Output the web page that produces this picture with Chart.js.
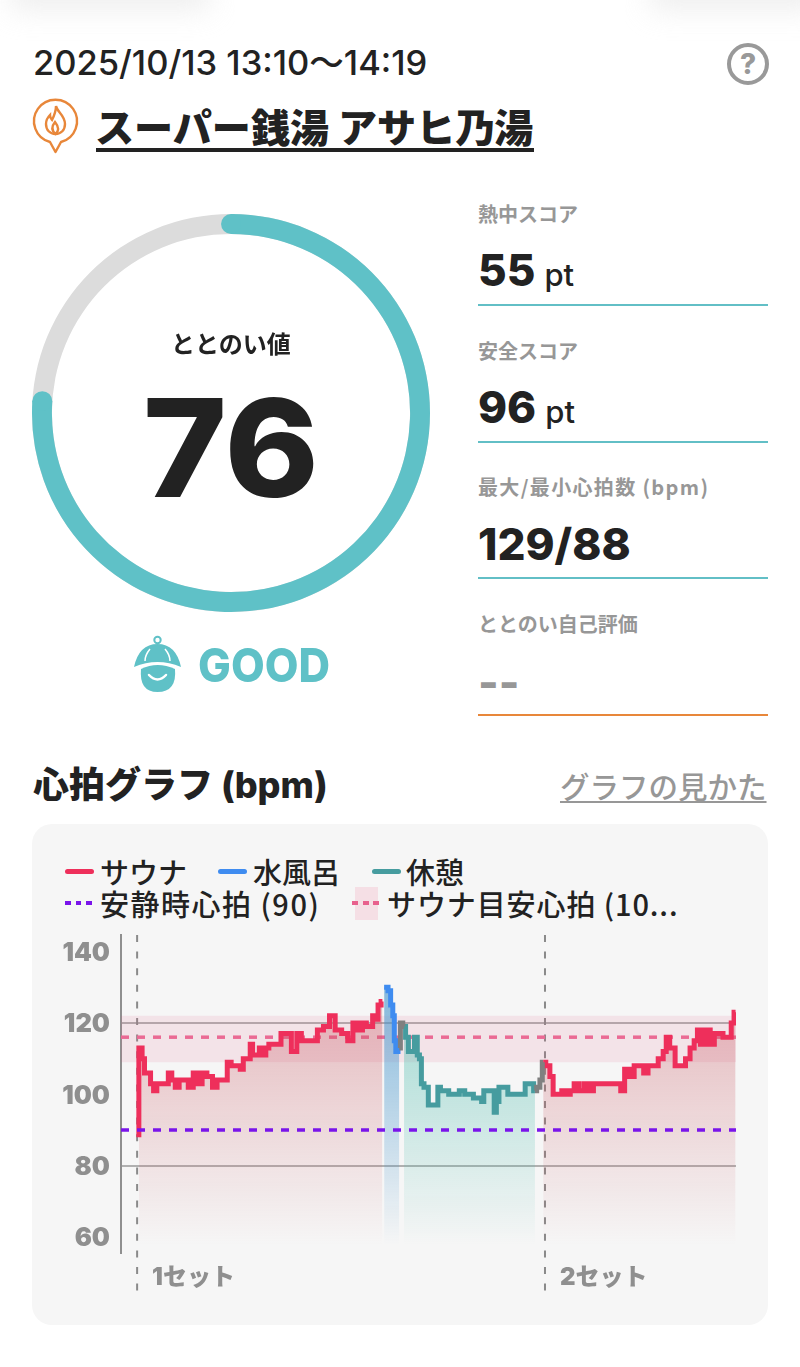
<!DOCTYPE html>
<html lang="ja">
<head>
<meta charset="utf-8">
<title>心拍グラフ</title>
<script src="https://cdn.jsdelivr.net/npm/chart.js@4"></script>
<style>
    html, body { margin: 0; padding: 0; background: #fff; }
    body {
        position: relative;
        width: 800px;
        height: 1367px;
        overflow: hidden;
        color: #222;
        font-family: Inter, "Noto Sans CJK JP", sans-serif;
    }
    .abs { position: absolute; white-space: nowrap; line-height: 1; }
    canvas { position: absolute; }
    .blur { position: absolute; top: -30px; height: 40px; background: #e4e4e4; filter: blur(14px); opacity: .6; }
    .label { left: 478px; font-size: 20px; font-weight: 700; color: #979797; font-family: "Noto Sans CJK JP"; }
    .value { left: 478px; font-size: 44px; font-weight: 800; color: #222; }
    .value small { font-size: 31px; font-weight: 500; margin-left: 9px; }
    .rule { position: absolute; left: 478px; width: 290px; height: 2px; background: #62bfc6; }
    #panel { position: absolute; left: 32px; top: 824px; width: 736px; height: 501px; background: #f6f6f6; border-radius: 20px; }
    .swatch { position: absolute; height: 5px; border-radius: 3px; }
    .dots { position: absolute; height: 4px; }
    .legend { font-size: 29px; font-weight: 500; color: #222; font-family: "Noto Sans CJK JP"; }
</style>
</head>
<body>
<div class="blur" style="left:10px;width:200px"></div>
<div class="blur" style="left:650px;width:170px"></div>

<!-- Header -->
<div class="abs" style="left:33px;top:46px;font-size:34.500px;font-weight:500">2025/10/13 13:10～14:19</div>
<svg class="abs" style="left:726px;top:42px" width="44" height="44">
    <circle cx="22" cy="22" r="19" fill="none" stroke="#999" stroke-width="4"/>
    <text x="22" y="32" text-anchor="middle" font-size="28" font-weight="800" fill="#999" font-family="Inter">?</text>
</svg>
<svg class="abs" style="left:30px;top:96px" width="52" height="62" fill="none" stroke="#e8873a" stroke-width="2.4">
    <path d="M20 46 A21.5 21.5 0 1 1 31 46 L25.5 56 Z" stroke-linejoin="round"/>
    <path d="M26 10 C27 16 35 19 35 28 C35 34 31 38 25.5 38 C20 38 16 34 16 28 C16 24 18 21 20 19 C20 22 21 23 22 24 C24 20 26 15 26 10 Z"/>
    <path d="M25.5 38 C22 35 21 31 25 26 C29 31 29 35 25.5 38 Z"/>
</svg>
<div class="abs" style="left:95px;top:106px;font-size:39.100px;font-weight:800;font-family:'Noto Sans CJK JP'">スーパー銭湯 アサヒ乃湯</div>
<div style="position:absolute;left:96px;top:148px;width:438px;height:4px;background:#222"></div>

<!-- Gauge -->
<canvas id="gaugeTrack" width="418" height="418" style="left:22px;top:204px"></canvas>
<canvas id="gauge" width="418" height="418" style="left:22px;top:204px"></canvas>
<div class="abs" style="left:31px;width:400px;text-align:center;top:331px;font-size:24px;font-weight:700;font-family:'Noto Sans CJK JP'">ととのい値</div>
<div class="abs" id="gaugeValue" style="left:31px;width:400px;text-align:center;top:380px;font-size:136px;font-weight:800;color:#222;transform:scaleX(1.05)"></div>

<svg class="abs" style="left:130px;top:632px" width="54" height="64" viewBox="130 632 54 64" fill="#5fc1c7">
    <circle cx="157.500" cy="640" r="3.200" fill="none" stroke="#5fc1c7" stroke-width="2"/>
    <path d="M134 667 Q139 644 157.500 644 Q176 644 181 667 Q157.500 657 134 667 Z"/>
    <path d="M141 669 Q157.500 661 175 669 Q177 692 157.500 692 Q139 692 141 669 Z"/>
    <path d="M149 675 Q157.500 684 166 675" fill="none" stroke="#fff" stroke-width="2.500" stroke-linecap="round"/>
    <path d="M150 649 Q145 655 145 661 M165 649 Q170 655 170 661" fill="none" stroke="#fff" stroke-width="1.500"/>
</svg>
<div class="abs" style="left:198px;top:641px;font-size:47px;font-weight:800;color:#5fc1c7;transform:scaleX(.93);transform-origin:left">GOOD</div>

<!-- Scores -->
<div class="abs label" style="top:204px">熱中スコア</div>
<div class="abs value" style="top:248px">55<small>pt</small></div>
<div class="rule" style="top:304px"></div>
<div class="abs label" style="top:341px">安全スコア</div>
<div class="abs value" style="top:385px">96<small>pt</small></div>
<div class="rule" style="top:441px"></div>
<div class="abs label" style="top:477px;letter-spacing:1.350px">最大/最小心拍数 (bpm)</div>
<div class="abs value" style="top:522px">129/88</div>
<div class="rule" style="top:577px"></div>
<div class="abs label" style="top:614px">ととのい自己評価</div>
<div class="abs value" style="top:660px;color:#979797">--</div>
<div class="rule" style="top:714px;background:#e8873a"></div>

<!-- Graph heading -->
<div class="abs" style="left:33px;top:767px;font-size:36px;font-weight:800;font-family:Inter,'Noto Sans CJK JP'">心拍グラフ (bpm)</div>
<div class="abs" style="left:560px;top:771px;font-size:29.500px;font-weight:500;color:#979797;font-family:'Noto Sans CJK JP';text-decoration:underline;text-underline-offset:3px">グラフの見かた</div>

<div id="panel"></div>

<!-- Legend -->
<div class="swatch" style="left:65px;top:869px;width:29px;background:#ee2f5b"></div>
<div class="abs legend" style="left:100px;top:857px">サウナ</div>
<div class="swatch" style="left:218px;top:869px;width:29px;background:#3f8cf0"></div>
<div class="abs legend" style="left:253px;top:857px">水風呂</div>
<div class="swatch" style="left:372px;top:869px;width:29px;background:#469c9f"></div>
<div class="abs legend" style="left:406px;top:857px">休憩</div>
<div class="dots" style="left:65px;top:901px;width:27px;background:repeating-linear-gradient(90deg,#7a14ea 0 6px,transparent 6px 10.500px)"></div>
<div class="abs legend" id="restLegend" style="left:100px;top:889px;letter-spacing:1.500px"></div>
<div style="position:absolute;left:355px;top:887px;width:23px;height:33px;background:#f5dfe5"></div>
<div class="dots" style="left:352px;top:901px;width:27px;background:repeating-linear-gradient(90deg,#e8608d 0 6px,transparent 6px 10.500px)"></div>
<div class="abs legend" style="left:387px;top:889px;letter-spacing:.9px">サウナ目安心拍 (10...</div>

<canvas id="heartChart" width="736" height="400" style="left:32px;top:924px"></canvas>

<script>
// Gauge values
const gaugeValue = 76;
const gaugeRest = 24;

// Axis settings
const yTicks = [60, 80, 100, 120, 140];
const yGridLines = [80, 120];
const restingBpm = 90;
const targetBpm = 116;
const targetBandLow = 109;
const targetBandHigh = 122;

// Elapsed minutes of the session
const sessionTimes = [-1.96, 69];
const setStarts = [-0.1, 46.96];
const setLabels = ['1セット', '2セット'];

// First sauna
const sauna1Times = [0.1, 0.1, 0.35, 0.6, 0.9, 1.3, 1.6, 2.0, 2.35, 2.7, 3.3, 3.7, 4.1, 4.5, 5.0, 5.5, 6.1, 6.65, 7.2, 7.6, 8.3, 8.9, 9.35, 10.1, 10.5, 11, 11.6, 12, 12.3, 12.85, 13.05, 13.4, 13.9, 14.1, 14.6, 14.9, 15.3, 16.2, 16.8, 17.35, 18.05, 18.6, 19.1, 20.4, 21, 21.8, 22.4, 23.1, 23.9, 24.5, 25.1, 25.6, 26.2, 26.5, 27, 27.15, 27.5, 27.9, 28.2];
const sauna1Bpm = [88, 113, 113, 110, 106, 106, 103, 101, 103, 103, 103, 106, 104, 102, 104, 104, 102, 106, 103, 106, 105, 102, 104, 104, 109, 108, 108, 107, 110, 110, 114, 111, 111, 113, 111, 113, 114, 114, 117, 117, 112, 117, 115, 115, 118, 119, 122, 118, 117, 115, 120, 118, 120, 119, 119, 122, 121, 125, 126];

// Water bath
const bathTimes = [28.4, 28.7, 29, 29.3, 29.5, 29.65, 29.85, 30.15];
const bathBpm = [130, 130, 129, 125, 122, 115, 112, 113];

// Grey moves between the states
const move1Times = [30.15, 30.4, 30.7];
const move1Bpm = [113, 120, 119];
const move2Times = [45.8, 46.2, 46.55, 46.75];
const move2Bpm = [101, 102, 104, 109];

// Rest
const restTimes = [30.7, 31.05, 31.35, 31.7, 32.1, 32.35, 32.6, 32.8, 33.2, 33.8, 34.5, 34.7, 35.1, 36.6, 37.55, 37.85, 38.5, 38.9, 39.5, 39.8, 40, 41, 41.2, 41.5, 41.8, 42.55, 42.8, 44.3, 45.05, 45.5, 45.8];
const restBpm = [119, 116, 112, 112, 116, 111, 110, 103, 102, 97, 97, 102, 101, 100, 101, 100, 100, 99, 99, 98, 101, 101, 95, 98, 102, 102, 100, 100, 103, 103, 101];

// Second sauna
const sauna2Times = [46.75, 47.35, 47.7, 48.1, 48.7, 49.1, 49.7, 50.05, 50.6, 51.2, 51.8, 52.35, 52.75, 53.7, 54.85, 55.5, 55.9, 56.4, 56.95, 57.55, 58.1, 58.6, 59.1, 59.65, 60.4, 60.8, 61.1, 61.6, 62.35, 62.85, 63.5, 63.9, 64.45, 64.65, 65.15, 65.75, 66.3, 66.7, 68.3, 68.6, 68.95];
const sauna2Bpm = [109, 108, 105, 100, 100, 101, 100, 101, 103, 101, 103, 101, 103, 103, 103, 103, 101, 107, 105, 108, 108, 106, 108, 108, 110, 112, 116, 113, 108, 108, 110, 113, 115, 118, 114, 118, 114, 117, 116, 120, 123];

const fontFamily = 'Inter, "Noto Sans CJK JP", sans-serif';

document.getElementById('gaugeValue').textContent = gaugeValue;
document.getElementById('restLegend').textContent = `安静時心拍 (${restingBpm})`;

// Zip two arrays into chart points
function toPoints(times, values) {
    return times.map((time, i) => ({ x: time, y: values[i] }));
}

// Vertical fade under a line
function fade(r, g, b, topAlpha) {
    return (context) => {
        const { ctx, chartArea } = context.chart;
        if (!chartArea) return 'transparent';
        const gradient = ctx.createLinearGradient(0, chartArea.top + 65, 0, chartArea.bottom - 8);
        gradient.addColorStop(0, `rgba(${r},${g},${b},${topAlpha})`);
        gradient.addColorStop(1, `rgba(${r},${g},${b},0)`);
        return gradient;
    };
}

// Flat line across the whole session
function levelLine(value, color, dash, order, extra) {
    return Object.assign({
        data: toPoints(sessionTimes, [value, value]),
        borderColor: color,
        borderWidth: 3.5,
        borderDash: dash,
        pointRadius: 0,
        fill: false,
        order: order
    }, extra);
}

// Heart rate segment
function segment(times, values, color, fillColor, order) {
    return {
        data: toPoints(times, values),
        borderColor: color,
        borderWidth: 5,
        borderJoinStyle: 'miter',
        stepped: 'middle',
        pointRadius: 0,
        fill: fillColor ? 'start' : false,
        backgroundColor: fillColor || 'transparent',
        order: order
    };
}

// Dashed set markers with their labels
const setMarkers = {
    id: 'setMarkers',
    beforeDatasetsDraw(chart) {
        const { ctx, scales } = chart;
        ctx.save();
        setStarts.forEach((start, i) => {
            const x = scales.x.getPixelForValue(start);
            ctx.strokeStyle = '#8a8a8a';
            ctx.lineWidth = 2;
            ctx.setLineDash([7, 9.6]);
            ctx.beginPath();
            ctx.moveTo(x, 11);
            ctx.lineTo(x, 370);
            ctx.stroke();
            ctx.fillStyle = '#8f8f8f';
            ctx.font = `900 24px ${fontFamily}`;
            ctx.textBaseline = 'middle';
            ctx.fillText(setLabels[i], x + 15, 354);
        });
        ctx.restore();
    }
};

// Round ends of the gauge slice, placed from the arc's own angles
const gaugeCaps = {
    id: 'gaugeCaps',
    afterDatasetsDraw(chart) {
        const arc = chart.getDatasetMeta(0).data[0];
        const radius = (arc.outerRadius + arc.innerRadius) / 2;
        const capSize = (arc.outerRadius - arc.innerRadius) / 2;
        const { ctx } = chart;
        ctx.save();
        ctx.fillStyle = '#5fc1c7';
        [arc.startAngle, arc.endAngle].forEach(angle => {
            ctx.beginPath();
            ctx.arc(arc.x + radius * Math.cos(angle), arc.y + radius * Math.sin(angle), capSize, 0, Math.PI * 2);
            ctx.fill();
        });
        ctx.restore();
    }
};

// Gauge: grey ring below, teal slice above
new Chart(document.getElementById('gaugeTrack'), {
    type: 'doughnut',
    data: { datasets: [{ data: [gaugeValue + gaugeRest], backgroundColor: ['#dcdcdc'], borderWidth: 0 }] },
    options: {
        responsive: false,
        animation: false,
        radius: 199,
        cutout: '90%',
        plugins: { legend: { display: false }, tooltip: { enabled: false } }
    }
});

new Chart(document.getElementById('gauge'), {
    type: 'doughnut',
    data: {
        datasets: [{
            data: [gaugeValue, gaugeRest],
            backgroundColor: ['#5fc1c7', 'transparent'],
            borderWidth: 0
        }]
    },
    options: {
        responsive: false,
        animation: false,
        radius: 199,
        cutout: '90%',
        plugins: { legend: { display: false }, tooltip: { enabled: false } }
    },
    plugins: [gaugeCaps]
});

// Heart rate chart
new Chart(document.getElementById('heartChart'), {
    type: 'line',
    data: {
        datasets: [
            levelLine(targetBandHigh, 'transparent', [], 9, { borderWidth: 0, fill: '+1', backgroundColor: 'rgba(226,90,130,0.12)' }),
            levelLine(targetBandLow, 'transparent', [], 9, { borderWidth: 0 }),
            levelLine(targetBpm, '#ea6a94', [8, 8], 6),
            levelLine(restingBpm, '#7a14ea', [8, 8], 1),
            segment(sauna1Times, sauna1Bpm, '#ee2f5b', fade(202, 90, 100, 0.38), 3),
            segment(bathTimes, bathBpm, '#3f8cf0', fade(70, 150, 205, 0.62), 3),
            segment(move1Times, move1Bpm, '#808080', null, 2),
            segment(restTimes, restBpm, '#469c9f', fade(80, 190, 175, 0.5), 3),
            segment(move2Times, move2Bpm, '#808080', null, 2),
            segment(sauna2Times, sauna2Bpm, '#ee2f5b', fade(202, 90, 100, 0.38), 3)
        ]
    },
    options: {
        responsive: false,
        animation: false,
        layout: { padding: { top: 11, bottom: 71, right: 32 } },
        scales: {
            x: {
                type: 'linear',
                display: false,
                min: sessionTimes[0],
                max: sessionTimes[1]
            },
            y: {
                min: 55.6,
                max: 144.6,
                afterBuildTicks: (axis) => { axis.ticks = yTicks.map(value => ({ value })); },
                afterFit: (axis) => {
                    axis.width = 89;
                    axis.paddingTop = 0;
                    axis.paddingBottom = 0;
                },
                border: { display: true, color: '#8f8f8f', width: 2 },
                grid: {
                    drawTicks: false,
                    lineWidth: 2,
                    color: (context) => yGridLines.includes(context.tick && context.tick.value) ? '#b0b0b0' : 'transparent'
                },
                ticks: {
                    padding: 11,
                    labelOffset: 1.5,
                    color: '#8f8f8f',
                    font: { family: fontFamily, size: 25.5, weight: '900' }
                }
            }
        },
        plugins: { legend: { display: false }, tooltip: { enabled: false } }
    },
    plugins: [setMarkers]
});
</script>
</body>
</html>
